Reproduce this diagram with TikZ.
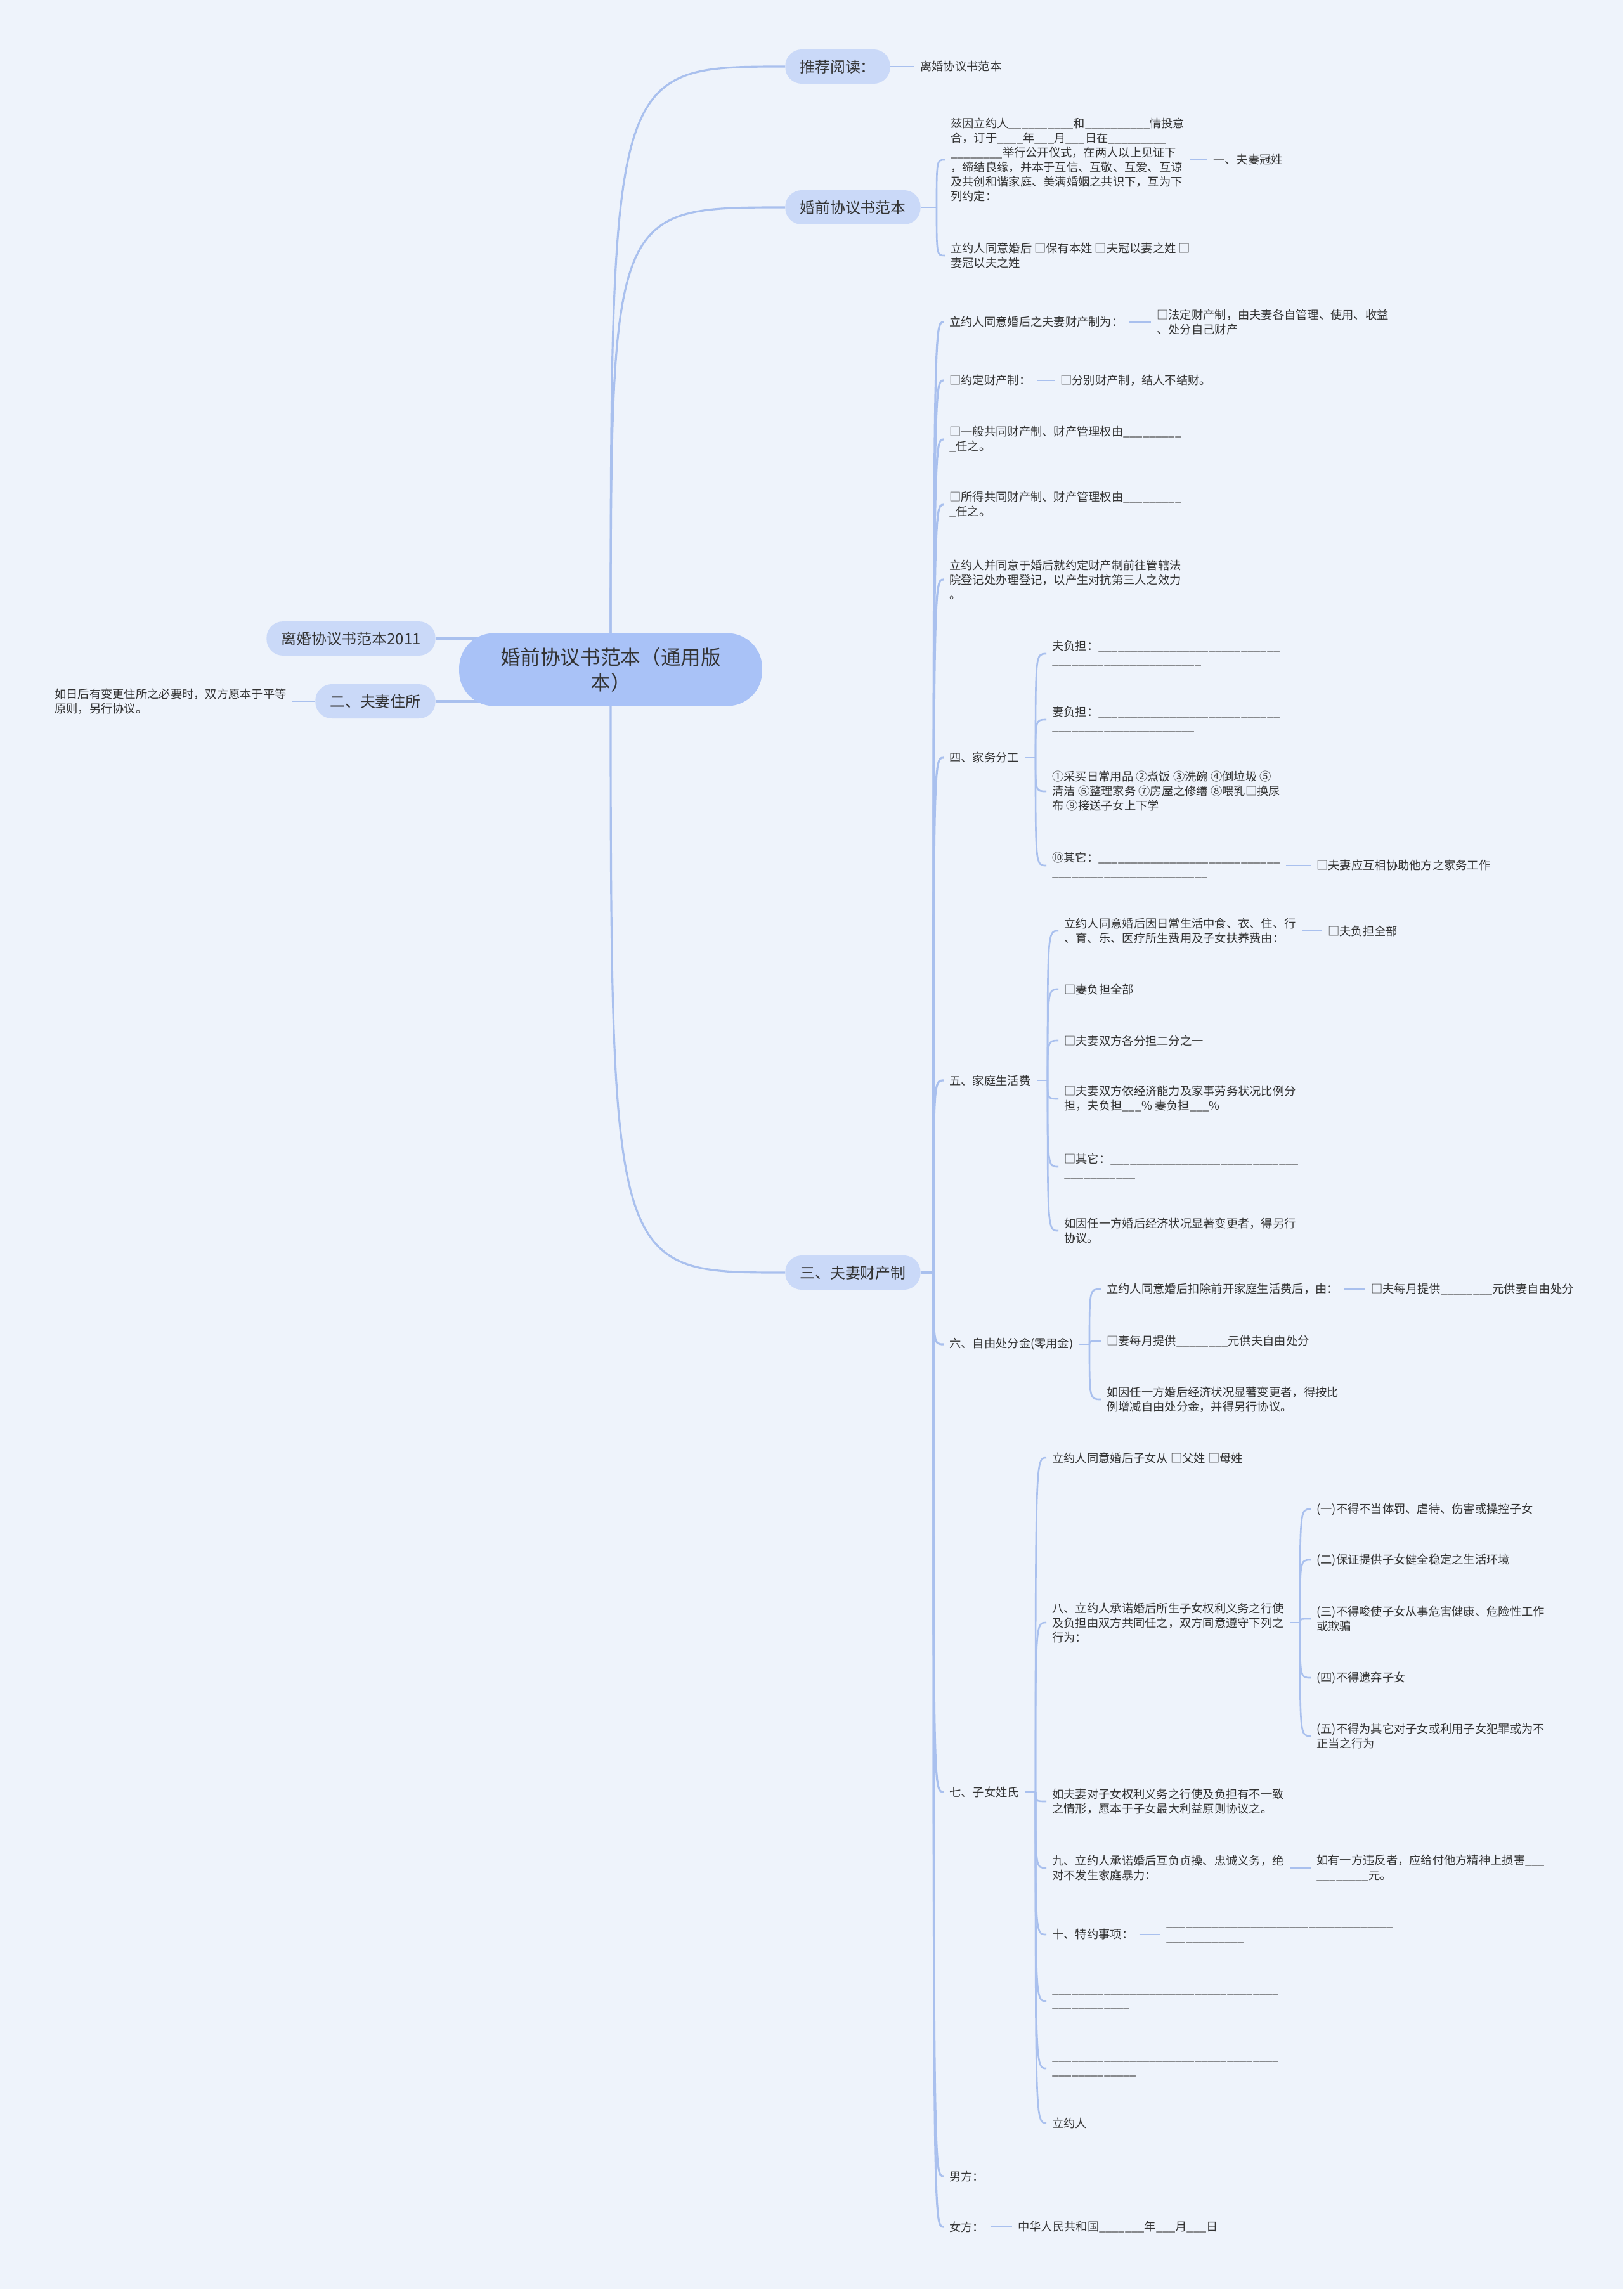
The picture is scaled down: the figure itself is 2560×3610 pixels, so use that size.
\documentclass[tikz,border=0pt]{standalone}
\usepackage{fontspec}
\setmainfont{Noto Sans CJK SC}
\usepackage{tikz}

\pgfdeclarelayer{paperlayer}
\pgfdeclarelayer{wirelayer}
\pgfsetlayers{paperlayer,wirelayer,main}

\definecolor{paper}{HTML}{EEF3FB}
\definecolor{rootfill}{HTML}{A9C2F7}
\definecolor{topicfill}{HTML}{CAD9F8}
\definecolor{wire}{HTML}{A9C0EE}
\definecolor{ink}{HTML}{333333}

\newcommand{\rootsize}{\fontsize{18}{22.8}\selectfont}
\newcommand{\topicsize}{\fontsize{13.6}{17}\selectfont}
\newcommand{\leafsize}{\fontsize{10.4}{13.1}\selectfont}
\newcommand{\gapline}[1]{\foreach \k in {1,...,#1}{\_}}

\begin{document}
\begin{tikzpicture}[x=0.02cm,y=-0.02cm,
    rootbox/.style={fill=rootfill,text=ink,rounded corners=1.1cm,minimum width=9.56cm,minimum height=2.3cm,align=center,font=\rootsize},
    topicbox/.style={fill=topicfill,text=ink,rounded corners=0.52cm,minimum height=1.08cm,inner xsep=0.46cm,font=\topicsize},
    leaftext/.style={anchor=west,text=ink,align=left,inner xsep=0.18cm,inner ysep=0pt,font=\leafsize},
    wireline/.style={draw=wire,line width=1.5pt},
    trunkline/.style={draw=wire,line width=1.8pt}]

    \begin{pgfonlayer}{paperlayer}
        \fill[paper] (0,0) rectangle (2560,3610);
    \end{pgfonlayer}
    \useasboundingbox (0,0) rectangle (2560,3610);

    % root and main topics
    \node[rootbox] (root) at (963,1056) {婚前协议书范本（通用版\\本）};
    \node[topicbox,anchor=west] (tj) at (1238,105) {推荐阅读：};
    \node[topicbox,anchor=west] (hq) at (1238,327) {婚前协议书范本};
    \node[topicbox,anchor=west] (cc) at (1238,2007) {三、夫妻财产制};
    \node[topicbox,anchor=east] (lh) at (687,1007) {离婚协议书范本2011};
    \node[topicbox,anchor=east] (zs) at (687,1106) {二、夫妻住所};

    \node[leaftext] (tj1) at (1442,105) {离婚协议书范本};
    \node[leaftext] (zs1) at (77,1106) {如日后有变更住所之必要时，双方愿本于平等\\原则，另行协议。};

    % 婚前协议书范本
    \node[leaftext] (hq1) at (1490,252) {兹因立约人\gapline{10}和\gapline{10}情投意\\合，订于\gapline{4}年\gapline{3}月\gapline{3}日在\gapline{9}\\\gapline{8}举行公开仪式，在两人以上见证下\\，缔结良缘，并本于互信、互敬、互爱、互谅\\及共创和谐家庭、美满婚姻之共识下，互为下\\列约定：};
    \node[leaftext] (hq1a) at (1904,252) {一、夫妻冠姓};
    \node[leaftext] (hq2) at (1490,403) {立约人同意婚后 □保有本姓 □夫冠以妻之姓 □\\妻冠以夫之姓};

    % 三、夫妻财产制
    \node[leaftext] (s1) at (1488,508) {立约人同意婚后之夫妻财产制为：};
    \node[leaftext] (s1a) at (1815,508) {□法定财产制，由夫妻各自管理、使用、收益\\、处分自己财产};
    \node[leaftext] (s2) at (1488,600) {□约定财产制：};
    \node[leaftext] (s2a) at (1663,600) {□分别财产制，结人不结财。};
    \node[leaftext] (s3) at (1488,693) {□一般共同财产制、财产管理权由\gapline{9}\\\gapline{1}任之。};
    \node[leaftext] (s4) at (1488,796) {□所得共同财产制、财产管理权由\gapline{9}\\\gapline{1}任之。};
    \node[leaftext] (s5) at (1488,914) {立约人并同意于婚后就约定财产制前往管辖法\\院登记处办理登记，以产生对抗第三人之效力\\。};
    \node[leaftext] (s6) at (1488,1195) {四、家务分工};
    \node[leaftext] (s7) at (1488,1704) {五、家庭生活费};
    \node[leaftext] (s8) at (1488,2120) {六、自由处分金(零用金)};
    \node[leaftext] (s9) at (1488,2826) {七、子女姓氏};
    \node[leaftext] (s10) at (1488,3432) {男方：};
    \node[leaftext] (s11) at (1488,3512) {女方：};
    \node[leaftext] (s11a) at (1596,3512) {中华人民共和国\gapline{7}年\gapline{3}月\gapline{3}日};

    % 四、家务分工
    \node[leaftext] (f1) at (1650,1031) {夫负担：\gapline{28}\\\gapline{23}};
    \node[leaftext] (f2) at (1650,1135) {妻负担：\gapline{28}\\\gapline{22}};
    \node[leaftext] (f3) at (1650,1248) {①采买日常用品 ②煮饭 ③洗碗 ④倒垃圾 ⑤\\清洁 ⑥整理家务 ⑦房屋之修缮 ⑧喂乳□换尿\\布 ⑨接送子女上下学};
    \node[leaftext] (f4) at (1650,1365) {⑩其它：\gapline{28}\\\gapline{24}};
    \node[leaftext] (f4a) at (2067,1365) {□夫妻应互相协助他方之家务工作};

    % 五、家庭生活费
    \node[leaftext] (w1) at (1669,1468) {立约人同意婚后因日常生活中食、衣、住、行\\、育、乐、医疗所生费用及子女扶养费由：};
    \node[leaftext] (w1a) at (2085,1468) {□夫负担全部};
    \node[leaftext] (w2) at (1669,1560) {□妻负担全部};
    \node[leaftext] (w3) at (1669,1641) {□夫妻双方各分担二分之一};
    \node[leaftext] (w4) at (1669,1733) {□夫妻双方依经济能力及家事劳务状况比例分\\担，夫负担\gapline{3}\% 妻负担\gapline{3}\%};
    \node[leaftext] (w5) at (1669,1840) {□其它：\gapline{29}\\\gapline{11}};
    \node[leaftext] (w6) at (1669,1941) {如因任一方婚后经济状况显著变更者，得另行\\协议。};

    % 六、自由处分金
    \node[leaftext] (l1) at (1736,2033) {立约人同意婚后扣除前开家庭生活费后，由：};
    \node[leaftext] (l1a) at (2153,2033) {□夫每月提供\gapline{8}元供妻自由处分};
    \node[leaftext] (l2) at (1736,2115) {□妻每月提供\gapline{8}元供夫自由处分};
    \node[leaftext] (l3) at (1736,2207) {如因任一方婚后经济状况显著变更者，得按比\\例增减自由处分金，并得另行协议。};

    % 七、子女姓氏
    \node[leaftext] (q1) at (1650,2299) {立约人同意婚后子女从 □父姓 □母姓};
    \node[leaftext] (q2) at (1650,2559) {八、立约人承诺婚后所生子女权利义务之行使\\及负担由双方共同任之，双方同意遵守下列之\\行为：};
    \node[leaftext] (b1) at (2067,2380) {(一)不得不当体罚、虐待、伤害或操控子女};
    \node[leaftext] (b2) at (2067,2460) {(二)保证提供子女健全稳定之生活环境};
    \node[leaftext] (b3) at (2067,2553) {(三)不得唆使子女从事危害健康、危险性工作\\或欺骗};
    \node[leaftext] (b4) at (2067,2646) {(四)不得遗弃子女};
    \node[leaftext] (b5) at (2067,2738) {(五)不得为其它对子女或利用子女犯罪或为不\\正当之行为};
    \node[leaftext] (q3) at (1650,2841) {如夫妻对子女权利义务之行使及负担有不一致\\之情形，愿本于子女最大利益原则协议之。};
    \node[leaftext] (q4) at (1650,2946) {九、立约人承诺婚后互负贞操、忠诚义务，绝\\对不发生家庭暴力：};
    \node[leaftext] (q4a) at (2067,2946) {如有一方违反者，应给付他方精神上损害\gapline{3}\\\gapline{8}元。};
    \node[leaftext] (q5) at (1650,3051) {十、特约事项：};
    \node[leaftext] (q5a) at (1830,3051) {\gapline{35}\\\gapline{12}};
    \node[leaftext] (q6) at (1650,3156) {\gapline{35}\\\gapline{12}};
    \node[leaftext] (q7) at (1650,3262) {\gapline{35}\\\gapline{13}};
    \node[leaftext] (q8) at (1650,3348) {立约人};

    % bracket joints
    \coordinate (hqj) at (1477,327);
    \coordinate (ccj) at (1472,2007);
    \coordinate (s6j) at (1633,1195);
    \coordinate (s7j) at (1652,1704);
    \coordinate (s8j) at (1718,2120);
    \coordinate (s9j) at (1633,2826);
    \coordinate (q2j) at (2050,2559);

    \begin{pgfonlayer}{wirelayer}
        % root to main topics
        \draw[trunkline] (root.center) .. controls (root.center |- tj.west) .. (tj.west);
        \draw[trunkline] (root.center) .. controls (root.center |- hq.west) .. (hq.west);
        \draw[trunkline] (root.center) .. controls (root.center |- cc.west) .. (cc.west);
        \draw[trunkline] (lh.east) -- (lh.east -| root.center);
        \draw[trunkline] (zs.east) -- (zs.east -| root.center);

        % one child
        \draw[wireline] (tj.east) -- (tj1.west);
        \draw[wireline] (zs1.east) -- (zs.west);
        \draw[wireline] (hq1.east) -- (hq1a.west);
        \draw[wireline] (s1.east) -- (s1a.west);
        \draw[wireline] (s2.east) -- (s2a.west);
        \draw[wireline] (s11.east) -- (s11a.west);
        \draw[wireline] (f4.east) -- (f4a.west);
        \draw[wireline] (w1.east) -- (w1a.west);
        \draw[wireline] (l1.east) -- (l1a.west);
        \draw[wireline] (q4.east) -- (q4a.west);
        \draw[wireline] (q5.east) -- (q5a.west);

        % brackets
        \draw[wireline] (hq.east) -- (hqj);
        \foreach \c in {hq1,hq2}
            \draw[wireline] (hqj) .. controls (hqj |- \c.west) .. (\c.west);
        \draw[trunkline] (cc.east) -- (ccj);
        \foreach \c in {s1,s2,s3,s4,s5,s6,s7,s8,s9,s10,s11}
            \draw[trunkline] (ccj) .. controls (ccj |- \c.west) .. (\c.west);
        \draw[wireline] (s6.east) -- (s6j);
        \foreach \c in {f1,f2,f3,f4}
            \draw[wireline] (s6j) .. controls (s6j |- \c.west) .. (\c.west);
        \draw[wireline] (s7.east) -- (s7j);
        \foreach \c in {w1,w2,w3,w4,w5,w6}
            \draw[wireline] (s7j) .. controls (s7j |- \c.west) .. (\c.west);
        \draw[wireline] (s8.east) -- (s8j);
        \foreach \c in {l1,l2,l3}
            \draw[wireline] (s8j) .. controls (s8j |- \c.west) .. (\c.west);
        \draw[wireline] (s9.east) -- (s9j);
        \foreach \c in {q1,q2,q3,q4,q5,q6,q7,q8}
            \draw[wireline] (s9j) .. controls (s9j |- \c.west) .. (\c.west);
        \draw[wireline] (q2.east) -- (q2j);
        \foreach \c in {b1,b2,b3,b4,b5}
            \draw[wireline] (q2j) .. controls (q2j |- \c.west) .. (\c.west);
    \end{pgfonlayer}

\end{tikzpicture}
\end{document}
